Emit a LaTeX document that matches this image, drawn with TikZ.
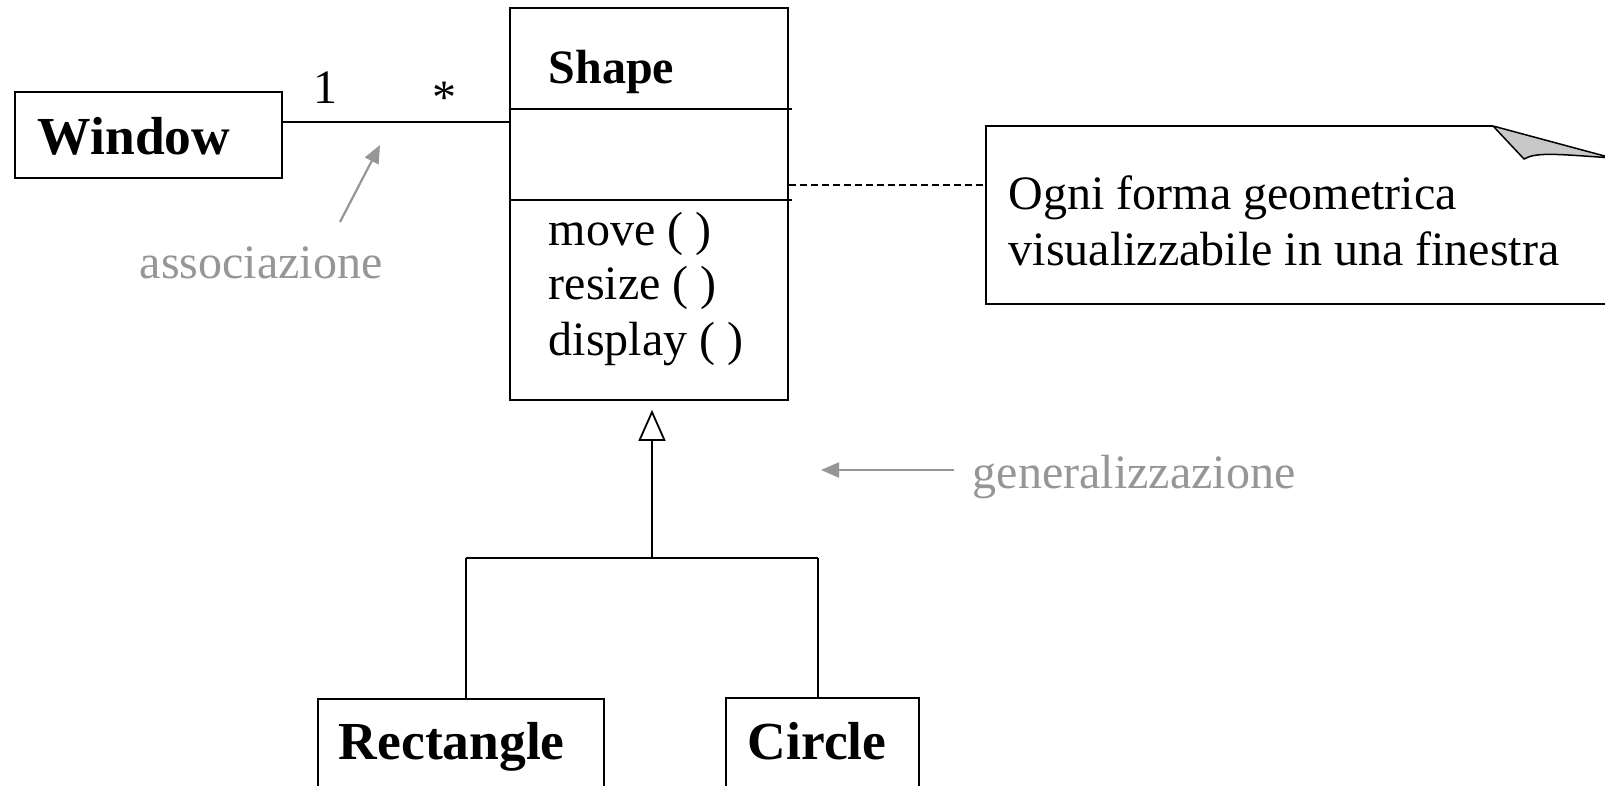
\documentclass[tikz,border=0pt]{standalone}
\usepackage{fontspec}
\setmainfont{Liberation Serif}
\usetikzlibrary{arrows.meta}
\definecolor{annot}{RGB}{150,150,150}
\definecolor{flapfill}{RGB}{200,200,200}

\begin{document}
\begin{tikzpicture}[x=1pt, y=-1pt, line width=1.8pt,
  box/.style={draw, line width=1.8pt, inner sep=0pt, anchor=north west},
  ghost/.style={inner sep=0pt, anchor=north west},
  lbl/.style={inner sep=0pt, anchor=base west},
  body/.style={font=\fontsize{48}{55}\selectfont},
  cname/.style={font=\fontsize{53.5}{60}\selectfont\bfseries},
  hint/.style={annot, line width=2.2pt, -{Triangle[length=18pt,width=15pt]}},
  hinttext/.style={lbl, body, text=annot}
]
\clip (0,0) rectangle (1605,785);
\fill[white] (0,0) rectangle (1605,785);

% class boxes
\node[box, minimum width=267pt, minimum height=86pt] (window) at (14,91) {};
\node[box, minimum width=278pt, minimum height=392pt] (shape) at (509,7) {};
\node[box, minimum width=286pt, minimum height=120pt] (rect) at (317,698) {};
\node[box, minimum width=193pt, minimum height=120pt] (circ) at (725,697) {};

% compartments of Shape
\coordinate (div1) at (792,109);
\coordinate (div2) at (792,200);
\draw (shape.west |- div1) -- (div1);
\draw (shape.west |- div2) -- (div2);

% class names and operations
\node[lbl, cname] (wname) at (37,154) {Window};
\node[lbl, font=\fontsize{48}{55}\selectfont\bfseries] (sname) at (548,83) {Shape};
\node[lbl, body] (op1) at (548,245) {move ( )};
\node[lbl, body] (op2) at (548,299) {resize ( )};
\node[lbl, body] (op3) at (548,355) {display ( )};
\node[lbl, cname] (rname) at (338,759) {Rectangle};
\node[lbl, cname] (cname) at (747,759) {Circle};

% association Window -- Shape
\coordinate (assocY) at (0,122);
\draw (window.east |- assocY) -- (shape.west |- assocY);
\node[lbl, body] (mult1) at (313,103) {1};
\node[lbl, body] (mult2) at (432,113) {*};

% note with folded corner
\node[ghost, minimum width=700pt, minimum height=176pt] (note) at (986,126) {};
\coordinate (fold) at (1493,126);
\draw (note.north east |- note.south) -- (note.south west) -- (note.north west) -- (fold);
\draw[fill=flapfill, line width=1.5pt, line join=round]
  (fold) -- (1524,159) .. controls (1536,152) and (1556,154) .. (1612,158) -- cycle;
\node[lbl, body] (nline1) at (1008,209) {Ogni forma geometrica};
\node[lbl, body] (nline2) at (1008,265) {visualizzabile in una finestra};
\coordinate (noteY) at (0,185);
\draw[line width=1.2pt, dash pattern=on 7pt off 4pt] (shape.east |- noteY) -- (note.west |- noteY);

% generalization tree
\coordinate (hub) at (652,558);
\coordinate (barL) at (466,558);
\coordinate (barR) at (818,558);
\draw (barL) -- (barR);
\draw (barL) -- (barL |- rect.north);
\draw (barR) -- (barR |- circ.north);
\draw[-{Triangle[open, length=31pt, width=27pt, line width=1.8pt]}, shorten >=9pt]
  (hub) -- (hub |- shape.south);

% explanatory labels
\coordinate (aTail) at (340,222);
\coordinate (aTip) at (380,145);
\draw[hint] (aTail) -- (aTip);
\node[hinttext] (assocLbl) at (139,278) {associazione};
\coordinate (gTail) at (954,470);
\coordinate (gTip) at (821,470);
\draw[hint] (gTail) -- (gTip);
\node[hinttext] (genLbl) at (972,488) {generalizzazione};
\end{tikzpicture}
\end{document}
